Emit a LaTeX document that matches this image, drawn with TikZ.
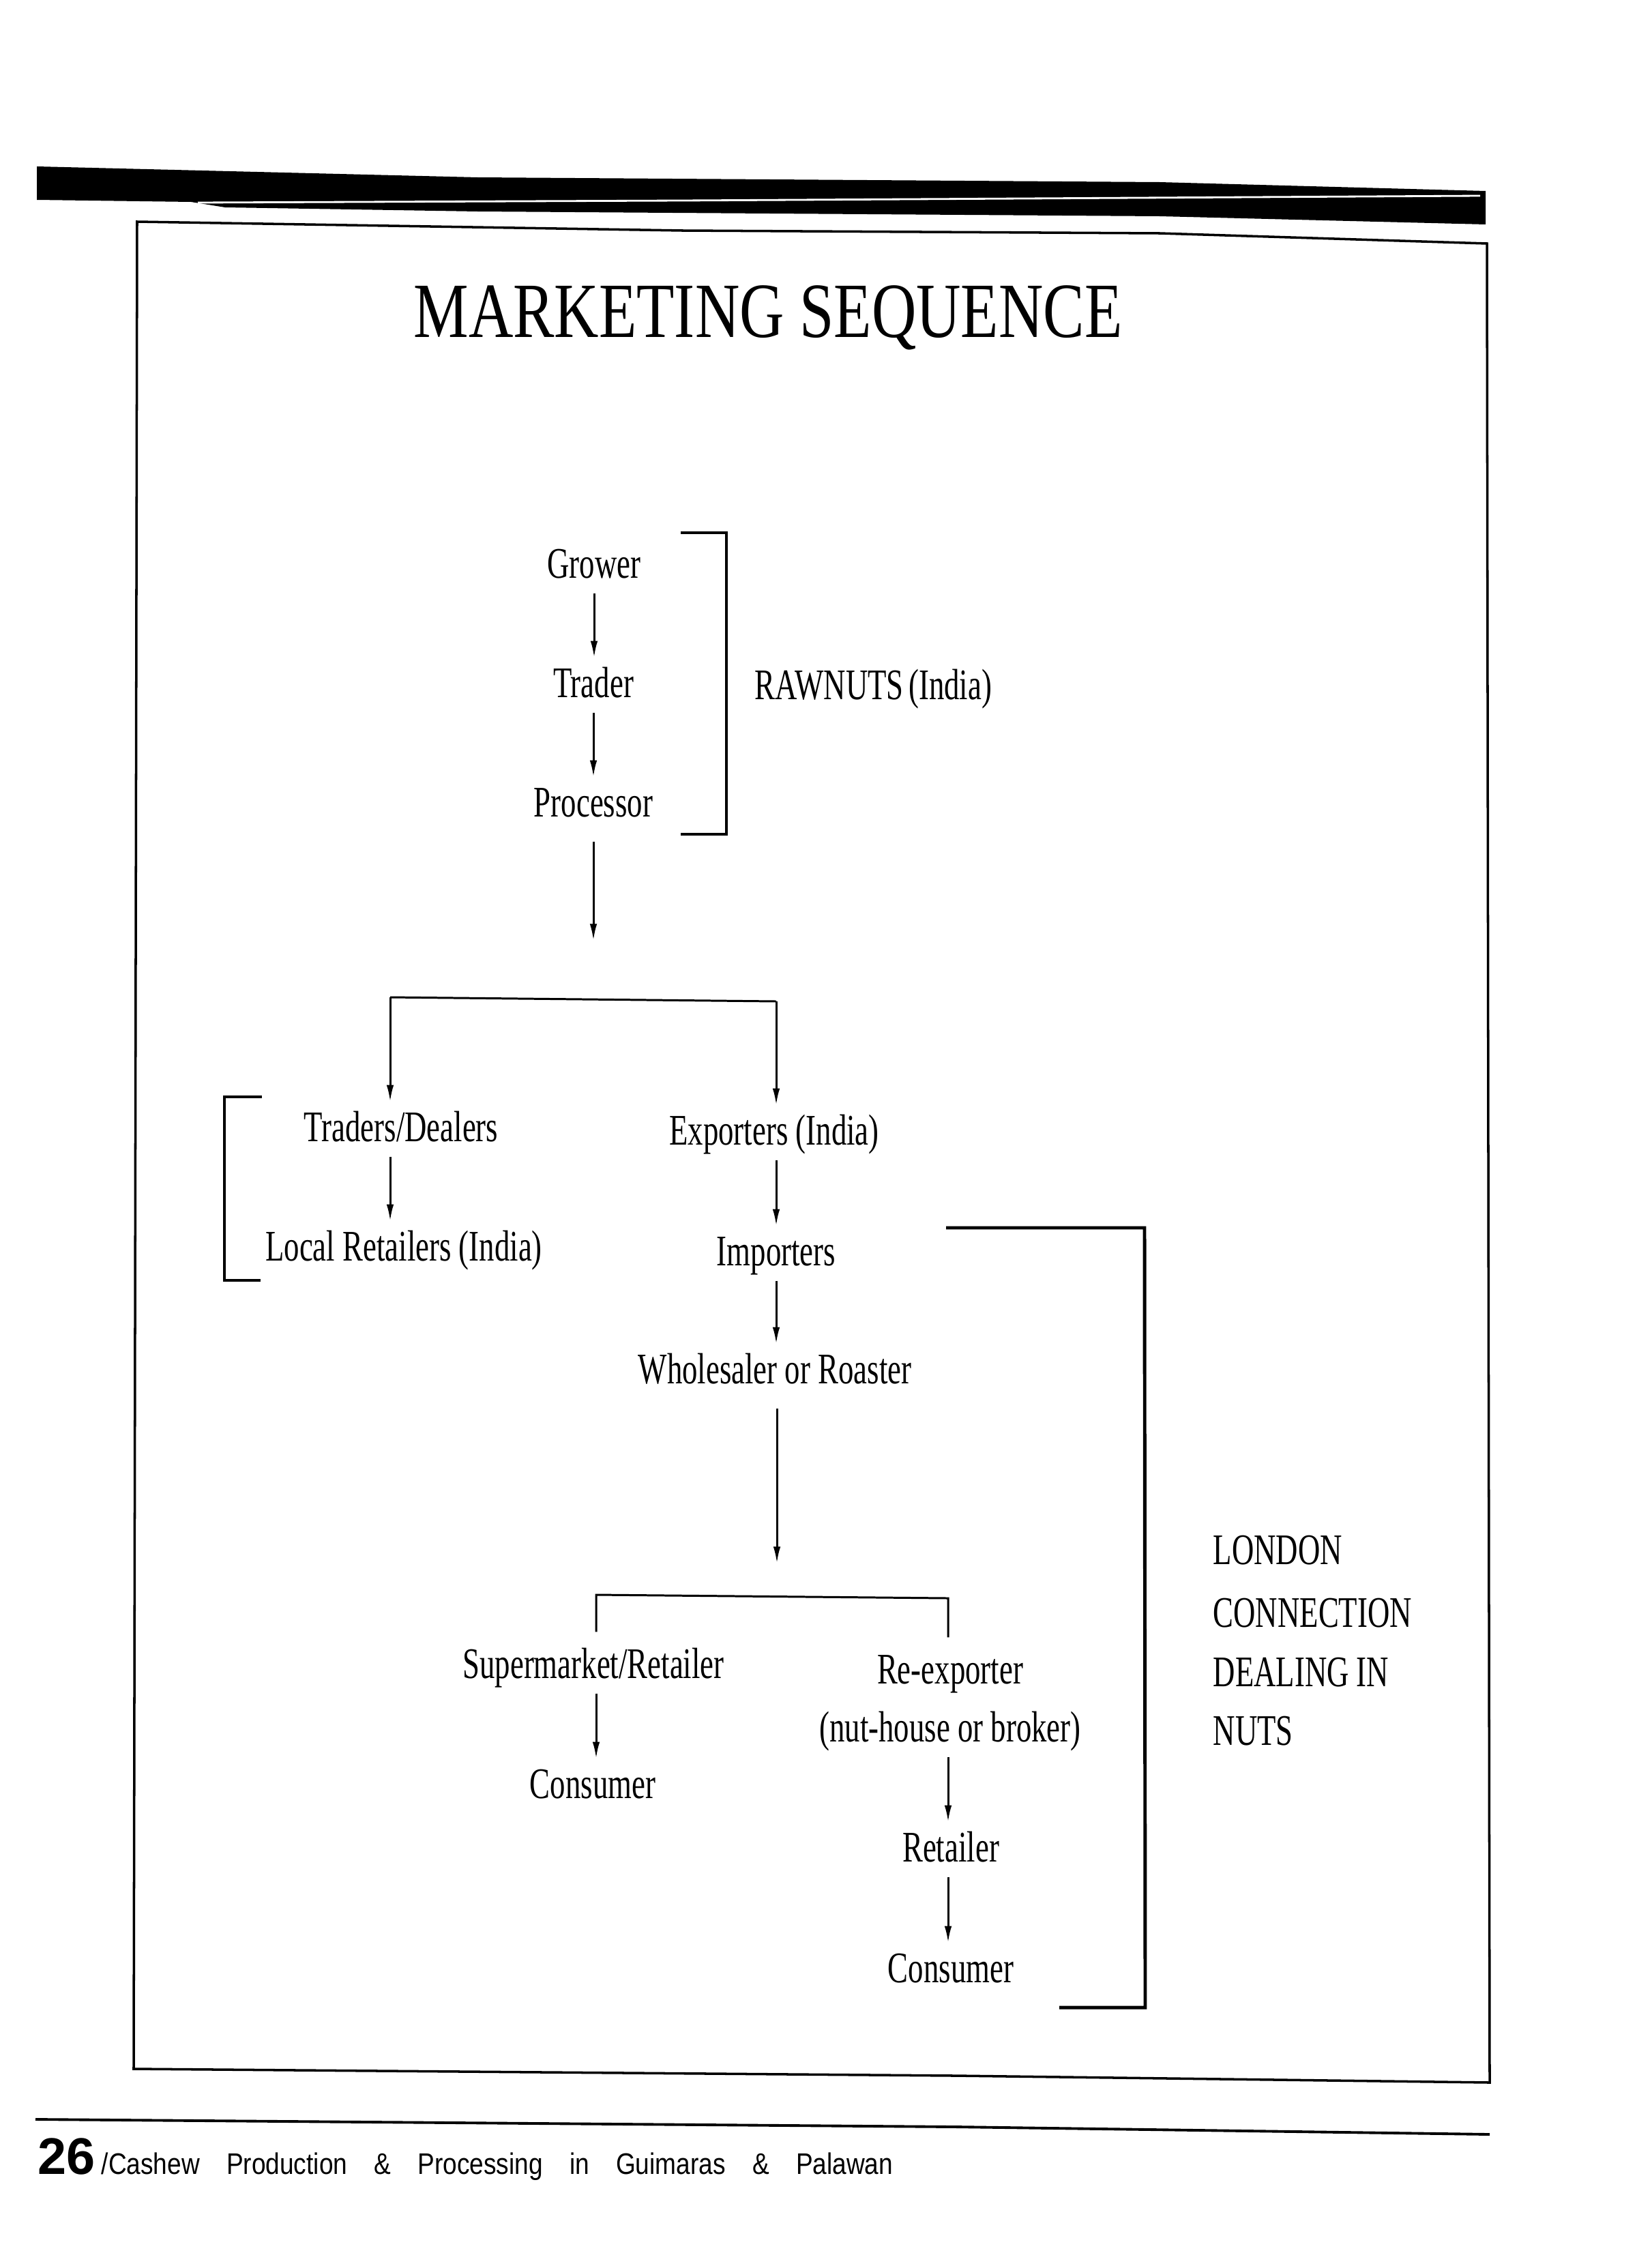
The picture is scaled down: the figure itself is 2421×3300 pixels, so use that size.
\documentclass[tikz,border=0pt]{standalone}
\usepackage{fontspec}
\setmainfont{Liberation Serif}
\newfontfamily\dfont[FakeStretch=0.7]{Liberation Serif}
\newfontfamily\tfont[FakeStretch=0.79]{Liberation Serif}
\newfontfamily\ffont[FakeStretch=0.85]{Liberation Sans}
\newfontfamily\pfont{Liberation Sans}
\usetikzlibrary{arrows.meta}
\begin{document}
\begin{tikzpicture}[x=0.01cm,y=-0.01cm,
  lbl/.style={font={\dfont\fontsize{18.2pt}{22pt}\selectfont}, inner sep=0pt, anchor=base, text height=0.57cm, text depth=0.22cm},
  lbll/.style={lbl, anchor=base west},
  arr/.style={line width=0.85pt, -{Latex[length=7pt,width=3pt]}},
  ln/.style={line width=0.85pt},
  brk/.style={line width=1.4pt}
]
\useasboundingbox (0,0) rectangle (2421,3300);
\fill[white] (0,0) rectangle (2421,3300);

% top band
\fill[black] (54,244) -- (700,260) -- (1700,267) -- (2178,280) -- (2178,329) -- (1700,317) -- (700,310) -- (330,304) -- (280,296) -- (54,293) -- cycle;
\draw[white, line width=0.8pt] (290,297) -- (1000,294) -- (2170,287);

% frame
\draw[line width=1pt] (201,325) -- (1000,338) -- (1700,342) -- (2180,357) -- (2184,3053) -- (1400,3043) -- (196,3033) -- cycle;

% title
\node[font={\tfont\fontsize{32.6pt}{38pt}\selectfont}, inner sep=0pt, anchor=base] (title) at (1126,494) {MARKETING SEQUENCE};

% nodes
\node[lbl] (grower) at (871,847) {Grower};
\node[lbl] (trader) at (870,1022) {Trader};
\node[lbl] (processor) at (870,1197) {Processor};
\node[lbll] (rawnuts) at (1106,1025) {RAWNUTS\hspace{0.12em}(India)};
\node[lbl] (traders) at (588,1673) {Traders/Dealers};
\node[lbl] (exporters) at (1135,1678) {Exporters (India)};
\node[lbl] (local) at (592,1848) {Local Retailers (India)};
\node[lbl] (importers) at (1138,1855) {Importers};
\node[lbl] (wholesaler) at (1136,2028) {Wholesaler or Roaster};
\node[lbl] (supermarket) at (870,2460) {Supermarket/Retailer};
\node[lbl] (reexp) at (1393,2468) {Re-exporter};
\node[lbl] (nuthouse) at (1393,2553) {(nut-house or broker)};
\node[lbl] (consumerA) at (869,2636) {Consumer};
\node[lbl] (retailer) at (1394,2729) {Retailer};
\node[lbl] (consumerB) at (1394,2906) {Consumer};
\node[lbll] (london1) at (1778,2293) {LONDON};
\node[lbll] (london2) at (1778,2385) {CONNECTION};
\node[lbll] (london3) at (1778,2472) {DEALING IN};
\node[lbll] (london4) at (1778,2558) {NUTS};

% coordinates
\coordinate (procend) at (870,1379);
\coordinate (sL) at (572,1462);
\coordinate (sR) at (1138,1468);
\coordinate (wend) at (1139,2292);
\coordinate (bL) at (874,2338);
\coordinate (bR) at (1390,2343);

% connectors
\draw[arr] (grower.south) -- (grower.south |- trader.north);
\draw[arr] (trader.south) -- (trader.south |- processor.north);
\draw[arr] ([yshift=-0.14cm]processor.south) -- (procend);
\draw[ln] (sL) -- (sR);
\draw[arr] (sL) -- (sL |- traders.north);
\draw[arr] (sR) -- (sR |- exporters.north);
\draw[arr] (sL |- traders.south) -- (sL |- local.north);
\draw[arr] (sR |- exporters.south) -- (sR |- importers.north);
\draw[arr] (sR |- importers.south) -- (sR |- wholesaler.north);
\draw[arr] ([yshift=-0.14cm]wholesaler.south -| wend) -- (wend);
\draw[ln] ([yshift=0.1cm]bL |- supermarket.north) -- (bL) -- (bR) -- ([yshift=0.1cm]bR |- reexp.north);
\draw[arr] (bL |- supermarket.south) -- (bL |- consumerA.north);
\draw[arr] (bR |- nuthouse.south) -- (bR |- retailer.north);
\draw[arr] (bR |- retailer.south) -- (bR |- consumerB.north);

% brackets
\draw[brk] (998,781) -- (1065,781) -- (1065,1223) -- (998,1223);
\draw[brk] (384,1608) -- (329,1608) -- (329,1877) -- (382,1877);
\draw[brk] (1387,1800) -- (1678,1800) -- (1679,2943) -- (1553,2943);

% footer
\draw[line width=1.1pt] (52,3107) -- (1400,3118) -- (2184,3129);
\node[anchor=base west, inner sep=0pt, font={\pfont\bfseries\fontsize{21.5pt}{25pt}\selectfont}] (pnum) at (55,3187) {26};
\node[anchor=base west, inner sep=0pt, font={\ffont\fontsize{12.4pt}{15pt}\selectfont}] (ftext) at (148,3187) {\spaceskip=0.9em\relax /Cashew Production \& Processing in Guimaras \& Palawan};
\end{tikzpicture}
\end{document}
